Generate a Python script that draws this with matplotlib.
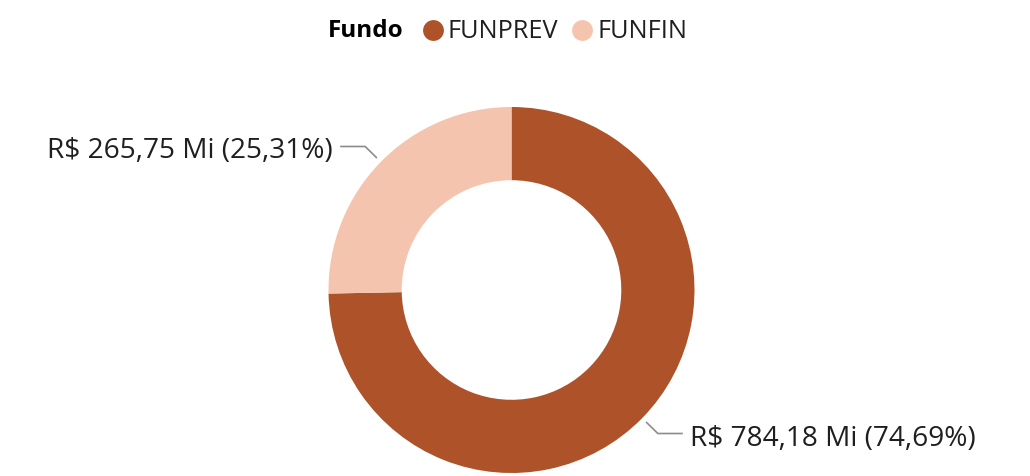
import numpy as np
import matplotlib
matplotlib.use("Agg")
import matplotlib.pyplot as plt

plt.rcParams['font.family'] = ['Open Sans', 'DejaVu Sans']

fundos = ['FUNPREV', 'FUNFIN']
valores = [784.18, 265.75]   # R$ milhões
cores = ['#AD5229', '#F4C4AF']

W, H = 1030, 476
fig = plt.figure(figsize=(W / 100, H / 100), dpi=100)
ax = fig.add_axes([0, 0, 1, 1])

# eixo em pixels (y para cima)
cx, cy, R = 511.5, H - 290, 183
wedges, _ = ax.pie(valores, colors=cores, startangle=90, counterclock=False,
                   center=(cx, cy), radius=R,
                   wedgeprops=dict(width=R * 0.4, linewidth=0))
ax.set_xlim(0, W)
ax.set_ylim(0, H)
ax.set_aspect('equal')
ax.axis('off')

total = sum(valores)
for w, v in zip(wedges, valores):
    ang = np.deg2rad((w.theta1 + w.theta2) / 2)
    ux, uy = np.cos(ang), np.sin(ang)
    lado = 1 if ux >= 0 else -1
    p0 = (cx + 1.03 * R * ux, cy + 1.03 * R * uy)
    p1 = (cx + 1.12 * R * ux, cy + 1.12 * R * uy)
    p2 = (p1[0] + lado * 25, p1[1])
    ax.plot([p0[0], p1[0], p2[0]], [p0[1], p1[1], p2[1]],
            color='#8c8c8c', lw=1.2, solid_capstyle='butt')
    txt = f"R$ {v:.2f} Mi ({v / total * 100:.2f}%)".replace('.', ',')
    ax.text(p2[0] + lado * 7, p2[1] - 5, txt, fontsize=20.2, color='#1f1f1f',
            ha='left' if lado > 0 else 'right', va='center')

# legenda
ly = H - 30
ax.text(328, ly - 1, 'Fundo', fontsize=17.5, fontweight='bold', color='#000000',
        ha='left', va='center')
lx = [433, 582]
for x, nome, cor in zip(lx, fundos, cores):
    ax.plot(x, ly, 'o', ms=15, color=cor, mec='none')
    ax.text(x + 15, ly - 1, nome, fontsize=18.2, color='#1f1f1f', ha='left', va='center')

fig.savefig('out.png', dpi=100)
